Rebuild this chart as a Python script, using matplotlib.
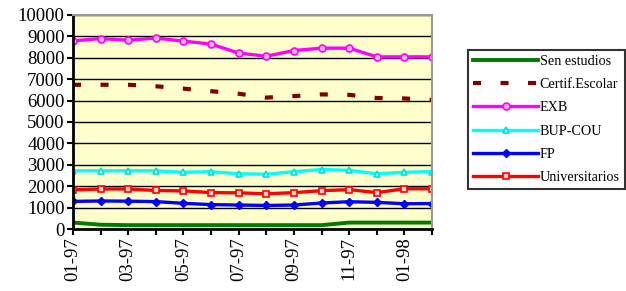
import matplotlib
matplotlib.use("Agg")
import matplotlib.pyplot as plt

plt.rcParams["font.family"] = ["Liberation Serif", "DejaVu Serif"]
plt.rcParams["lines.scale_dashes"] = False

months = ["01-97", "02-97", "03-97", "04-97", "05-97", "06-97", "07-97",
          "08-97", "09-97", "10-97", "11-97", "12-97", "01-98", "02-98"]

sen_estudios = [300, 200, 180, 180, 180, 180, 180, 180, 180, 180, 300, 300, 300, 300]
certif_escolar = [6740, 6740, 6740, 6670, 6560, 6440, 6320, 6140, 6210, 6290, 6270, 6120, 6100, 6030]
exb = [8790, 8900, 8820, 8925, 8780, 8640, 8220, 8075, 8340, 8450, 8450, 8045, 8045, 8045]
bup_cou = [2720, 2720, 2720, 2720, 2650, 2680, 2580, 2560, 2680, 2780, 2740, 2580, 2650, 2680]
fp = [1290, 1310, 1300, 1280, 1200, 1140, 1120, 1100, 1120, 1215, 1275, 1245, 1180, 1190]
universitarios = [1830, 1870, 1870, 1800, 1780, 1700, 1690, 1645, 1700, 1790, 1840, 1700, 1880, 1880]

x = list(range(len(months)))

fig = plt.figure(figsize=(6.26, 2.91), dpi=100)
ax = fig.add_axes([73 / 626, 1 - 229 / 291, 359 / 626, 214 / 291])
ax.set_facecolor("#FFFFCC")

lw = 2.4
ax.plot(x, sen_estudios, color="#007A00", lw=2.8, label="Sen estudios")
ax.plot(x, certif_escolar, color="#800000", lw=3.0, dashes=(5.8, 14.0),
        dash_capstyle="butt", label="Certif.Escolar")
ax.plot(x, exb, color="#FF00FF", lw=lw, marker="o", ms=5, mfc="#FFB0FF",
        mec="#FF00FF", mew=1.2, label="EXB")
ax.plot(x, bup_cou, color="#00FFFF", lw=lw, marker="^", ms=5, mfc="#D0FFFF",
        mec="#00E0E0", mew=1.2, label="BUP-COU")
ax.plot(x, fp, color="#0000FF", lw=lw, marker="D", ms=4.5, mfc="#0000FF",
        mec="#0000FF", label="FP")
ax.plot(x, universitarios, color="#FF0000", lw=lw, marker="s", ms=5, mfc="#FFD0D0",
        mec="#FF0000", mew=1.2, label="Universitarios")

ax.set_xlim(0, len(months) - 1)
ax.set_ylim(0, 10000)
ax.set_yticks(range(0, 10001, 1000))
ax.yaxis.grid(True, color="black", lw=1.0)
ax.set_axisbelow(True)
ax.set_xticks(x)
ax.set_xticklabels([m if i % 2 == 0 else "" for i, m in enumerate(months)], rotation=90)
ax.tick_params(axis="both", direction="out", length=4, width=1.5, labelsize=13.5,
               color="black", pad=2)

for side in ["left", "bottom"]:
    ax.spines[side].set_color("black")
    ax.spines[side].set_linewidth(2)
for side in ["top", "right"]:
    ax.spines[side].set_color("#999999")
    ax.spines[side].set_linewidth(1.5)

leg = fig.legend(loc="upper left", bbox_to_anchor=(468 / 626, 1 - 50 / 291),
                 fontsize=10.2, frameon=True, fancybox=False, handlelength=4.6,
                 handletextpad=0.1, labelspacing=0.72, borderpad=0.35,
                 borderaxespad=0, numpoints=1)
leg.get_frame().set_edgecolor("black")
leg.get_frame().set_linewidth(1.5)

fig.savefig("out.png", dpi=100)
